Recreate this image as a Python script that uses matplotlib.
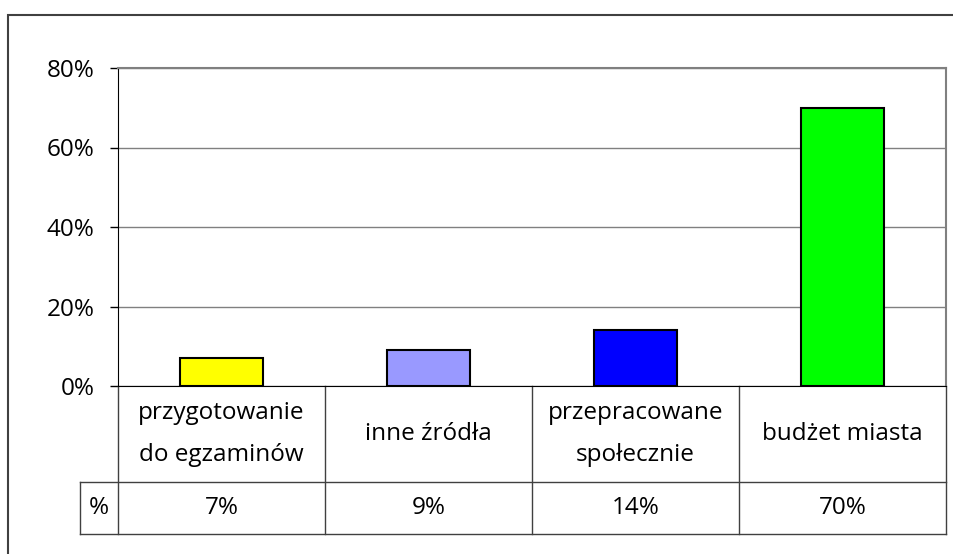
import matplotlib
matplotlib.use("Agg")
import matplotlib.pyplot as plt
from matplotlib.patches import Rectangle
import matplotlib.transforms as mtransforms

categories = ["przygotowanie\ndo egzaminów", "inne źródła", "przepracowane\nspołecznie", "budżet miasta"]
values = [7, 9, 14, 70]
value_labels = ["7%", "9%", "14%", "70%"]
colors = ["#FFFF00", "#9999FF", "#0000FF", "#00FF00"]
yticks = [0, 20, 40, 60, 80]
ytick_labels = ["0%", "20%", "40%", "60%", "80%"]
row_header = "%"

plt.rcParams['font.family'] = ['Open Sans', 'DejaVu Sans']
W, H = 954, 554
fig = plt.figure(figsize=(W / 100, H / 100), dpi=100)

L, R, T, B = 118, 946, 68, 386
ax = fig.add_axes([L / W, 1 - B / H, (R - L) / W, (B - T) / H])

FS = 17.5
x = list(range(len(categories)))
ax.bar(x, values, width=0.405, color=colors, edgecolor="black", linewidth=1.5, zorder=3)
ax.set_xlim(-0.5, len(categories) - 0.5)
ax.set_ylim(0, 80)
ax.set_yticks(yticks)
ax.set_yticklabels(ytick_labels, fontsize=FS)
ax.yaxis.grid(True, color="#808080", linewidth=1)
ax.set_axisbelow(True)
ax.set_xticks([])
ax.tick_params(axis="y", length=6, width=1, color="black", pad=11)
ax.spines["top"].set_color("#808080")
ax.spines["right"].set_color("#808080")
ax.spines["top"].set_linewidth(1.5)
ax.spines["right"].set_linewidth(1.5)
ax.spines["left"].set_color("black")
ax.spines["bottom"].set_color("black")

# table below
trans = mtransforms.blended_transform_factory(ax.transData, ax.transAxes)
h = B - T
y_cat_bottom = -(482 - B) / h
y_val_bottom = -(534 - B) / h
px_per_unit = (R - L) / len(categories)
x_left_hdr = -0.5 - (L - 80) / px_per_unit
lc = "#404040"
for i in range(len(categories) + 1):
    xe = i - 0.5
    ax.plot([xe, xe], [0, y_val_bottom], color=lc, lw=1, transform=trans, clip_on=False)
ax.plot([x_left_hdr, len(categories) - 0.5], [y_cat_bottom, y_cat_bottom], color=lc, lw=1, transform=trans, clip_on=False)
ax.plot([x_left_hdr, len(categories) - 0.5], [y_val_bottom, y_val_bottom], color=lc, lw=1, transform=trans, clip_on=False)
ax.plot([x_left_hdr, x_left_hdr], [y_cat_bottom, y_val_bottom], color=lc, lw=1, transform=trans, clip_on=False)

for i, (c, v) in enumerate(zip(categories, value_labels)):
    ax.text(i, y_cat_bottom / 2, c, transform=trans, ha="center", va="center", fontsize=FS, linespacing=2.05)
    ax.text(i, (y_cat_bottom + y_val_bottom) / 2, v, transform=trans, ha="center", va="center", fontsize=FS)
ax.text((x_left_hdr - 0.5) / 2, (y_cat_bottom + y_val_bottom) / 2, row_header, transform=trans, ha="center", va="center", fontsize=FS)

# outer chart frame
fig.patches.append(Rectangle((8 / W, -0.1), 1.2, 1 - 15 / H + 0.1, transform=fig.transFigure,
                             fill=False, edgecolor="#404040", linewidth=1.5))

fig.savefig("out.png", dpi=100)
